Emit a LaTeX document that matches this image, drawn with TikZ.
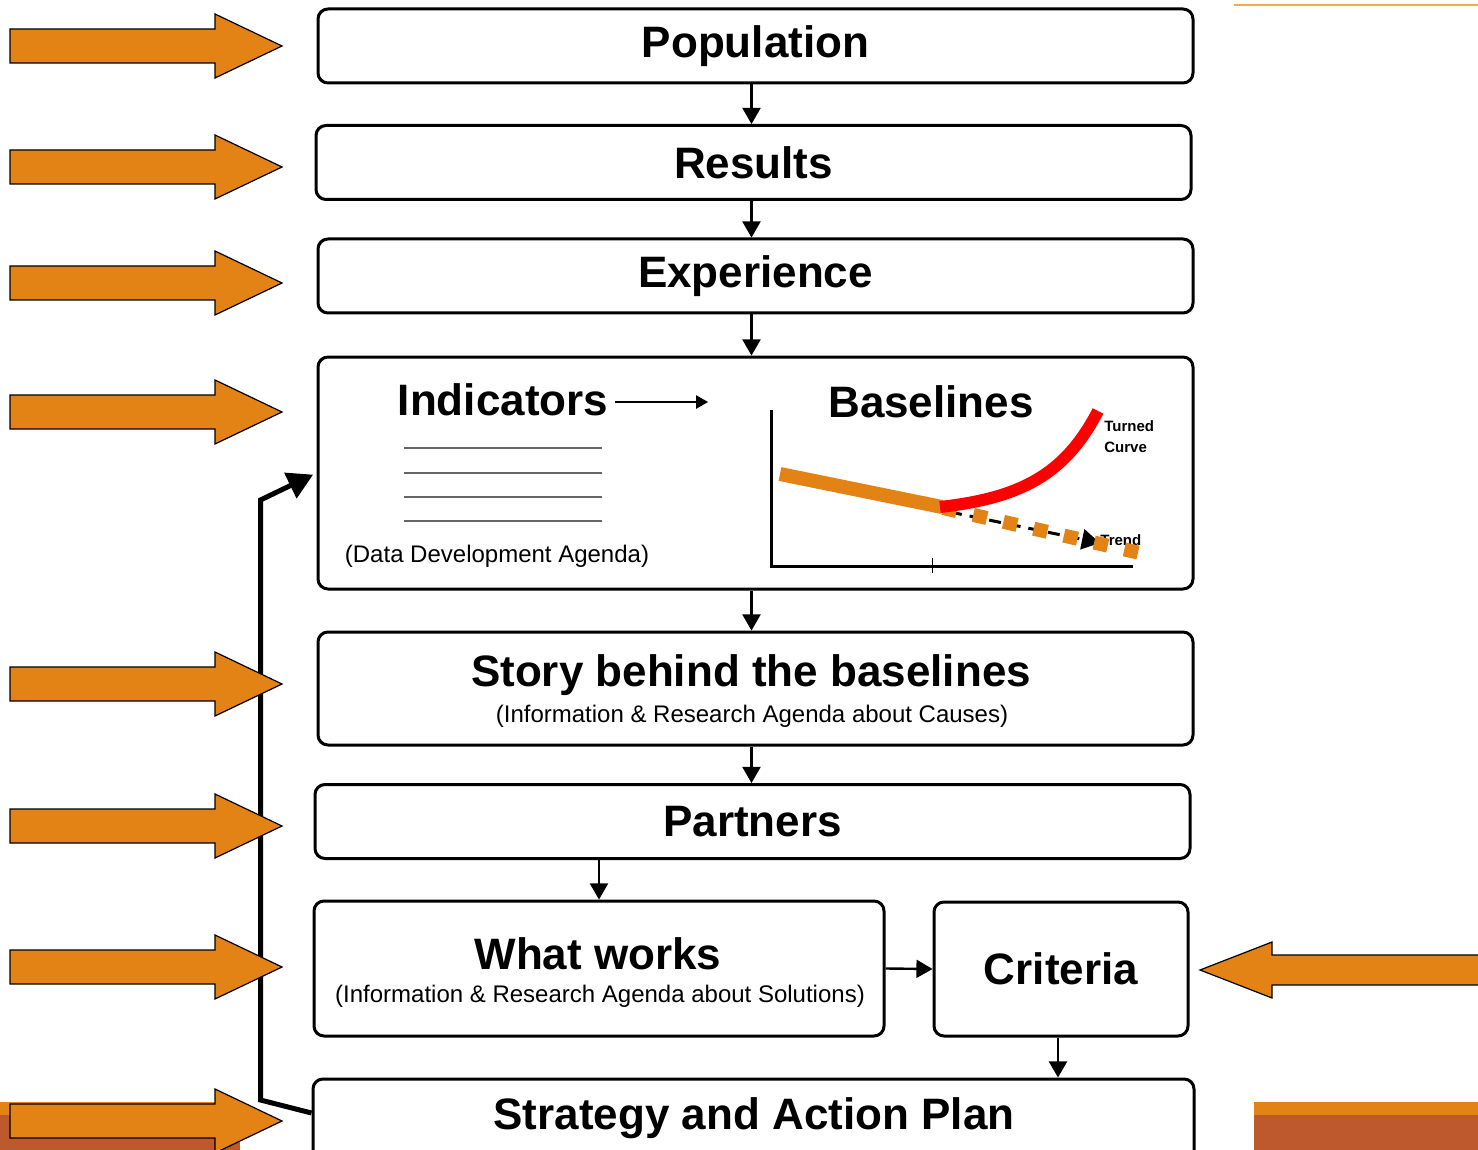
\documentclass[tikz,border=0pt]{standalone}
\usepackage{fontspec}
\setmainfont{Liberation Sans}
\usepackage{tikz}
\usetikzlibrary{arrows}
\definecolor{arrorange}{HTML}{E38215}
\definecolor{bandbrown}{HTML}{BE582D}
\definecolor{lineorange}{HTML}{F5AA46}
\tikzstyle{stage} = [draw, line width=1.5pt, rounded corners=5pt, inner sep=0pt, minimum width=437.5pt, minimum height=37pt]
\tikzstyle{ttl} = [font=\bfseries\fontsize{22}{26}\selectfont]
\tikzstyle{sub} = [font=\fontsize{12}{14}\selectfont]
\tikzstyle{small} = [font=\bfseries\fontsize{7.5}{10.5}\selectfont, anchor=west, align=left, inner sep=0pt]
\tikzstyle{flow} = [line width=1.2pt, -triangle 60]
\tikzstyle{blockarrow} = [draw=black, line width=0.6pt, fill=arrorange]

\begin{document}
\begin{tikzpicture}[x=0.5pt, y=-0.5pt]
			\useasboundingbox (0,0) rectangle (1478,1150);
			\clip (0,0) rectangle (1478,1150);
			% slide decoration
			\draw[lineorange, line width=1.2pt] (1234,5) -- (1478,5);
			\fill[arrorange] (0,1102) rectangle (240,1115);
			\fill[bandbrown] (0,1115) rectangle (240,1150);
			\fill[arrorange] (1254,1102) rectangle (1478,1115);
			\fill[bandbrown] (1254,1115) rectangle (1478,1150);
			% stages
			\node[stage, ttl] (pop) at (755.5,46) {Population};
			\node[stage, ttl] (res) at (753.5,162.5) {Results};
			\node[stage, ttl] (exp) at (755.5,276) {Experience};
			\node[stage, minimum height=116pt] (ind) at (755.5,473) {};
			\node[stage, minimum height=56.5pt] (story) at (755.5,688.5) {};
			\node[ttl] (storyttl) at (751,675) {Story behind the baselines};
			\node[sub] (storysub) at (752,716) {(Information \& Research Agenda about Causes)};
			\node[stage, ttl] (part) at (752.5,821.5) {Partners};
			\node[stage, minimum width=285pt, minimum height=67.5pt] (works) at (599,968.5) {};
			\node[ttl] (worksttl) at (598,954) {What works};
			\node[sub] (workssub) at (600,996) {(Information \& Research Agenda about Solutions)};
			\node[stage, ttl, minimum width=127pt, minimum height=67pt] (crit) at (1061,969) {Criteria};
			\node[stage, minimum width=440.5pt, minimum height=50pt] (strat) at (753.5,1129) {};
			\node[ttl] (stratttl) at (754,1118) {Strategy and Action Plan};
			% flow between stages
			\draw[flow] ([xshift=-2pt]pop.south) -- ([xshift=-2pt]pop.south |- res.north);
			\draw[flow] ([xshift=-1pt]res.south) -- ([xshift=-1pt]res.south |- exp.north);
			\draw[flow] ([xshift=-2pt]exp.south) -- ([xshift=-2pt]exp.south |- ind.north);
			\draw[flow] ([xshift=-2pt]ind.south) -- ([xshift=-2pt]ind.south |- story.north);
			\draw[flow] ([xshift=-2pt]story.south) -- ([xshift=-2pt]story.south |- part.north);
			\draw[flow] (works.north |- part.south) -- (works.north);
			\draw[flow] (works.east) -- (crit.west);
			\draw[flow] ([xshift=-1.5pt]crit.south) -- ([xshift=-1.5pt]crit.south |- strat.north);
			% feedback loop
			\draw[line width=2.5pt, -triangle 60, shorten >=2pt] ([yshift=8pt]strat.west) -- ++(-51,-13) -- ++(0,-600) -- (ind.west);
			% indicators
			\node[ttl] (indttl) at (503,400) {Indicators};
			\coordinate (indend) at (708,402);
			\draw[line width=0.6pt, -triangle 60] ([yshift=-1pt]indttl.east) -- (indend);
			\foreach \y in {448,473,497,521}
				\draw[black!60, line width=0.6pt] (404,\y) -- (602,\y);
			\node[sub] (dda) at (497,556) {(Data Development Agenda)};
			% baselines
			\node[ttl] (basettl) at (931,402) {Baselines};
			\draw[line width=1.5pt] (771,410) -- (771,566) -- (1133,566);
			\draw[line width=0.5pt] (932,558) -- (932,573);
			\node[small] (trend) at (1100,540) {Trend};
			\draw[line width=1.5pt, dash pattern=on 6pt off 4pt, -triangle 60] (950,512) -- (1100,543);
			\draw[arrorange, line width=7pt] (780,474) -- (942,507);
			\draw[arrorange, line width=7pt, dash pattern=on 7pt off 8.5pt] (943,508) -- (1140,553);
			\draw[red, line width=6pt] (940,507) .. controls (1020,498) and (1065,475) .. (1098,411);
			\node[small] (turned) at (1104,437) {Turned\\Curve};
			% block arrows
			\foreach \y in {46,167,283,412,684,826,967,1121}
				\draw[blockarrow] (10,\y-17) -- (215,\y-17) -- (215,\y-32) -- (282,\y) -- (215,\y+32) -- (215,\y+17) -- (10,\y+17) -- cycle;
			\draw[blockarrow] (1490,955) -- (1272,955) -- (1272,942) -- (1200,970) -- (1272,998) -- (1272,985) -- (1490,985) -- cycle;
		\end{tikzpicture}
\end{document}
